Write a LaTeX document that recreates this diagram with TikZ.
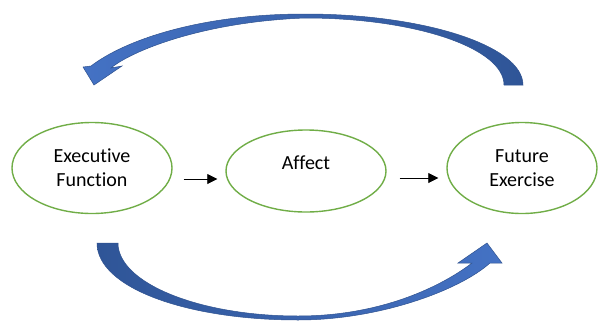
\documentclass[tikz,border=0pt]{standalone}
\usepackage{fontspec}
\setmainfont{Carlito}[Ligatures=NoCommon]
\usetikzlibrary{shapes.geometric,arrows.meta}
\definecolor{ovalgreen}{HTML}{70AD47}
\definecolor{bluedark}{HTML}{2F5597}
\definecolor{bluelight}{HTML}{4472C4}
\definecolor{blueedge}{HTML}{2F528F}

\begin{document}
\begin{tikzpicture}[x=1pt, y=-1pt, font=\fontsize{20}{24}\selectfont,
  oval/.style={ellipse, draw=ovalgreen, line width=1.4pt, minimum width=160pt,
    minimum height=91pt, inner sep=0pt, align=center},
  flow/.style={-{Triangle[length=10pt,width=10pt]}, line width=0.8pt},
  bigarrow/.style={draw=blueedge, line width=0.5pt}]
  \useasboundingbox (0,0) rectangle (598,322);
  % Ovaler
  \node[oval] (ef) at (92,168) {Executive\\Function};
  \node[oval, minimum height=82pt, label={[yshift=8pt]center:Affect}] (aff) at (306,171) {};
  \node[oval, minimum width=150pt] (fut) at (522,168) {Future\\Exercise};
  % Piler mellom ovalene
  \draw[flow] ([xshift=11pt,yshift=-11pt]ef.east) -- ([xshift=-8pt,yshift=-8pt]aff.west);
  \draw[flow] ([xshift=13pt,yshift=-7pt]aff.east) -- ([xshift=-8pt,yshift=-10pt]fut.west);
  % Buet pil over (fra Future Exercise tilbake)
  \draw[bigarrow, left color=bluelight, right color=bluedark]
    (523,85) .. controls (523,46) and (425,14) .. (305,14)
    .. controls (200,14) and (125,40) .. (91,66)
    -- (83,67) -- (94,85) -- (122,66) -- (111,68)
    .. controls (130,52) and (200,22) .. (305,18)
    .. controls (415,18) and (504,48) .. (504,85) -- cycle;
  % Buet pil under (mot Future Exercise)
  \draw[bigarrow, left color=bluedark, right color=bluelight]
    (97,243) .. controls (97,288) and (187,320) .. (298,320)
    .. controls (380,320) and (460,290) .. (490,263)
    -- (502,263) -- (487,243) -- (458,263) -- (472,263)
    .. controls (450,280) and (390,316) .. (298,316)
    .. controls (199,316) and (118,283) .. (118,243) -- cycle;
\end{tikzpicture}
\end{document}
